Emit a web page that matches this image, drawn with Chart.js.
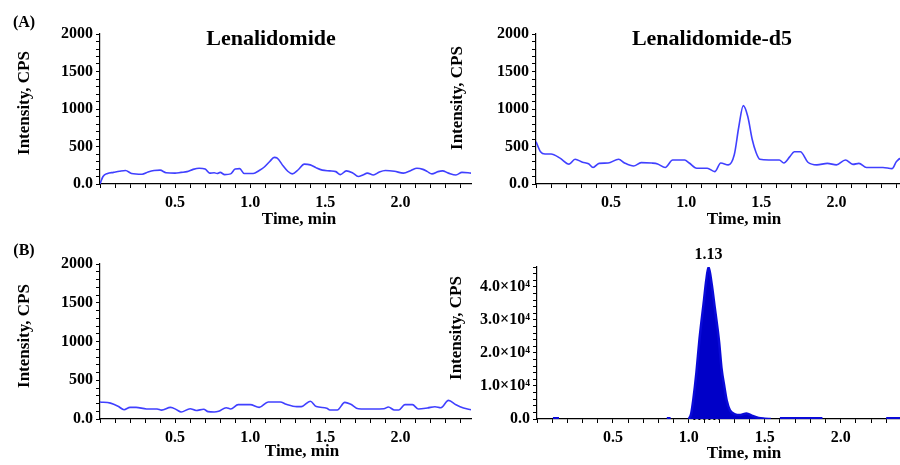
<!DOCTYPE html>
<html>
<head>
<meta charset="utf-8">
<script src="https://cdn.jsdelivr.net/npm/chart.js@4.4.1/dist/chart.umd.min.js"></script>
<style>
  body { margin: 0; width: 900px; height: 465px; overflow: hidden; position: relative; background: #fff; }
  canvas { position: absolute; }
</style>
</head>
<body>
<canvas id="chartA1" width="480" height="230" style="left:0px;top:0px"></canvas>
<canvas id="chartA2" width="480" height="230" style="left:440px;top:0px"></canvas>
<canvas id="chartB1" width="480" height="235" style="left:0px;top:230px"></canvas>
<canvas id="chartB2" width="480" height="235" style="left:440px;top:230px"></canvas>
<script>
// (A) Lenalidomide, blank
const timeA1 = [0, 0.02, 0.05, 0.09, 0.13, 0.17, 0.21, 0.28, 0.32, 0.36,
  0.40, 0.44, 0.50, 0.54, 0.58, 0.62, 0.66, 0.70, 0.73, 0.76,
  0.78, 0.80, 0.83, 0.87, 0.90, 0.93, 0.96, 1.02, 1.06, 1.09,
  1.13, 1.16, 1.18, 1.22, 1.25, 1.28, 1.32, 1.36, 1.40, 1.44,
  1.48, 1.53, 1.57, 1.60, 1.64, 1.68, 1.72, 1.75, 1.78, 1.82,
  1.86, 1.90, 1.96, 2.02, 2.07, 2.11, 2.15, 2.18, 2.21, 2.25,
  2.28, 2.32, 2.37, 2.41, 2.47];
const cpsA1 = [0, 100, 140, 155, 170, 180, 140, 130, 160, 180,
  185, 150, 145, 155, 165, 195, 210, 200, 145, 150,
  140, 155, 125, 135, 200, 205, 140, 140, 180, 220,
  300, 355, 345, 240, 170, 135, 190, 265, 255, 215,
  185, 175, 165, 125, 175, 150, 100, 120, 145, 120,
  160, 180, 170, 145, 180, 210, 195, 165, 135, 165,
  175, 145, 120, 155, 145];

// (A) Lenalidomide-d5, blank
const timeA2 = [0, 0.03, 0.06, 0.10, 0.16, 0.22, 0.26, 0.31, 0.35, 0.38,
  0.42, 0.48, 0.55, 0.59, 0.65, 0.70, 0.77, 0.81, 0.86, 0.91,
  0.99, 1.02, 1.07, 1.14, 1.19, 1.23, 1.28, 1.32, 1.35, 1.38,
  1.41, 1.44, 1.465, 1.49, 1.55, 1.62, 1.65, 1.69, 1.72, 1.76,
  1.81, 1.87, 1.94, 2.00, 2.06, 2.11, 2.15, 2.20, 2.31, 2.37,
  2.40, 2.43, 2.47];
const cpsA2 = [565, 430, 400, 400, 345, 265, 330, 290, 270, 220,
  275, 280, 330, 280, 240, 285, 280, 268, 220, 320,
  320, 280, 210, 210, 165, 280, 255, 390, 760, 1045,
  900, 590, 420, 330, 320, 320, 280, 365, 430, 430,
  290, 255, 275, 255, 320, 262, 275, 220, 220, 205,
  300, 345, 350];

// (B) left trace
const timeB1 = [0, 0.07, 0.12, 0.16, 0.20, 0.24, 0.31, 0.38, 0.41, 0.47,
  0.51, 0.54, 0.60, 0.64, 0.69, 0.72, 0.76, 0.79, 0.84, 0.87,
  0.92, 1.00, 1.06, 1.12, 1.20, 1.24, 1.31, 1.34, 1.40, 1.44,
  1.51, 1.53, 1.58, 1.63, 1.67, 1.72, 1.82, 1.89, 1.92, 1.96,
  1.99, 2.03, 2.08, 2.12, 2.18, 2.23, 2.27, 2.32, 2.37, 2.42,
  2.47];
const cpsB1 = [220, 205, 165, 120, 150, 150, 130, 130, 115, 150,
  120, 90, 133, 110, 125, 95, 90, 100, 146, 130,
  185, 185, 150, 220, 220, 190, 160, 160, 230, 160,
  140, 116, 116, 215, 190, 133, 129, 133, 155, 116,
  116, 185, 185, 129, 142, 159, 146, 240, 184, 142,
  120];

// (B) right trace, big peak (null = baseline hidden under axis)
const timeB2 = [0.10, 0.105, 0.145, 0.15, 0.84, 0.855, 0.88, 0.885, 1.00, 1.015,
  1.03, 1.05, 1.07, 1.10, 1.115, 1.13, 1.15, 1.17, 1.19, 1.20,
  1.215, 1.235, 1.25, 1.27, 1.30, 1.34, 1.38, 1.42, 1.46, 1.50,
  1.54, 1.59, 1.60, 1.88, 1.89, 2.29, 2.30, 2.47];
const cpsB2 = [null, 250, 250, null, null, 250, 250, null, 0, 1500,
  6000, 14000, 24000, 36000, 42000, 46000, 41000, 34000, 27000, 23000,
  15500, 9500, 5500, 2700, 1500, 1200, 1700, 900, 300, 100,
  0, null, 250, 250, null, null, 250, 250];
const timeBase = [1.03, 1.20];
const cpsBase = [0, 0];

const xTicksMajor = [0.5, 1.0, 1.5, 2.0];

const fontFamily = '"Liberation Serif", "Times New Roman", serif';
Chart.defaults.font.family = fontFamily;
Chart.defaults.font.weight = 'bold';
Chart.defaults.color = '#000';

function toPoints(xs, ys) {
  return xs.map((x, i) => ({ x: x, y: ys[i] }));
}

// free text (titles, panel letters, axis names, peak label), one plugin per chart
function textPlugin(items) {
  return {
    id: 'panelText',
    afterDraw(chart) {
      let ctx = chart.ctx;
      items.forEach(it => {
        let x = it.x, y = it.y;
        if (it.at) {
          x = chart.scales.x.getPixelForValue(it.at[0]);
          y = chart.scales.y.getPixelForValue(it.at[1]) - it.dy;
        }
        ctx.save();
        ctx.font = 'bold ' + it.size + 'px ' + fontFamily;
        ctx.fillStyle = '#000';
        ctx.textAlign = 'center';
        ctx.textBaseline = it.rotate ? 'middle' : 'alphabetic';
        ctx.translate(x, y);
        if (it.rotate) ctx.rotate(-Math.PI / 2);
        ctx.fillText(it.text, 0, 0);
        ctx.restore();
      });
    }
  };
}

function xLabel(v) {
  let hit = xTicksMajor.find(m => Math.abs(m - v) < 1e-6);
  return hit ? hit.toFixed(1) : '';
}

function makeChart(id, cfg) {
  let ctx = document.getElementById(id).getContext('2d');
  return new Chart(ctx, {
    type: 'line',
    data: { datasets: cfg.datasets },
    options: {
      responsive: false,
      animation: false,
      layout: { padding: cfg.padding },
      plugins: {
        legend: { display: false },
        tooltip: { enabled: false }
      },
      elements: { point: { radius: 0 } },
      scales: {
        x: {
          type: 'linear',
          min: 0,
          max: 2.47,
          afterFit: s => { s.height = cfg.xHeight; },
          grid: { drawOnChartArea: false, tickLength: 4, tickColor: '#000' },
          border: { color: '#000', width: 1.2 },
          ticks: {
            stepSize: 0.1,
            autoSkip: false,
            includeBounds: false,
            maxRotation: 0,
            padding: 5,
            font: { size: 16 },
            callback: v => xLabel(v)
          }
        },
        y: {
          min: 0,
          max: cfg.yMax,
          afterFit: s => { s.width = cfg.yWidth; },
          grid: { drawOnChartArea: false, tickLength: 4, tickColor: '#000' },
          border: { color: '#000', width: 1.2 },
          ticks: {
            stepSize: cfg.yStep,
            autoSkip: false,
            padding: 3,
            font: { size: 16 },
            callback: cfg.yLabel
          }
        }
      }
    },
    plugins: [textPlugin(cfg.texts)]
  });
}

function cpsLabel(v) {
  if (v === 0) return '0.0';
  return v % 500 === 0 ? String(v) : '';
}

function expLabel(v) {
  if (v === 0) return '0.0';
  return v % 10000 === 0 ? (v / 10000).toFixed(1) + '\u00d710\u2074' : '';
}

let thinLine = {
  borderColor: '#4040ff',
  borderWidth: 1.6,
  cubicInterpolationMode: 'monotone',
  fill: false
};

makeChart('chartA1', {
  padding: { top: 34, right: 9, left: 0, bottom: 0 },
  xHeight: 46, yWidth: 100, yMax: 2000, yStep: 100, yLabel: cpsLabel,
  datasets: [Object.assign({ data: toPoints(timeA1, cpsA1) }, thinLine)],
  texts: [
    { text: '(A)', x: 24, y: 27, size: 16 },
    { text: 'Lenalidomide', x: 271, y: 45, size: 22 },
    { text: 'Time, min', x: 299, y: 224, size: 17 },
    { text: 'Intensity, CPS', x: 25, y: 103, size: 17, rotate: true }
  ]
});

makeChart('chartA2', {
  padding: { top: 34, right: 13, left: 0, bottom: 0 },
  xHeight: 46, yWidth: 96, yMax: 2000, yStep: 100, yLabel: cpsLabel,
  datasets: [Object.assign({ data: toPoints(timeA2, cpsA2) }, thinLine)],
  texts: [
    { text: 'Lenalidomide-d5', x: 272, y: 45, size: 22 },
    { text: 'Time, min', x: 304, y: 224, size: 17 },
    { text: 'Intensity, CPS', x: 18, y: 98, size: 17, rotate: true }
  ]
});

makeChart('chartB1', {
  padding: { top: 34, right: 9, left: 0, bottom: 0 },
  xHeight: 46, yWidth: 100, yMax: 2000, yStep: 100, yLabel: cpsLabel,
  datasets: [Object.assign({ data: toPoints(timeB1, cpsB1) }, thinLine)],
  texts: [
    { text: '(B)', x: 24, y: 25, size: 16 },
    { text: 'Time, min', x: 302, y: 226, size: 17 },
    { text: 'Intensity, CPS', x: 25, y: 106, size: 17, rotate: true }
  ]
});

// peak apex for the retention time label
let peakIdx = cpsB2.indexOf(Math.max(...cpsB2.filter(v => v !== null)));

makeChart('chartB2', {
  padding: { top: 37, right: 8, left: 0, bottom: 0 },
  xHeight: 46, yWidth: 97, yMax: 46000, yStep: 2000, yLabel: expLabel,
  datasets: [
    {
      data: toPoints(timeB2, cpsB2),
      borderColor: '#0a0ad8',
      backgroundColor: '#0000c8',
      borderWidth: 2.5,
      cubicInterpolationMode: 'monotone',
      spanGaps: false,
      fill: 'origin'
    },
    {
      data: toPoints(timeBase, cpsBase),
      borderColor: '#000',
      borderWidth: 2,
      borderDash: [2, 3],
      clip: false,
      fill: false
    }
  ],
  texts: [
    { text: timeB2[peakIdx].toFixed(2), at: [timeB2[peakIdx], cpsB2[peakIdx]], dy: 8, size: 16 },
    { text: 'Time, min', x: 304, y: 228, size: 17 },
    { text: 'Intensity, CPS', x: 17, y: 98, size: 17, rotate: true }
  ]
});
</script>
</body>
</html>
